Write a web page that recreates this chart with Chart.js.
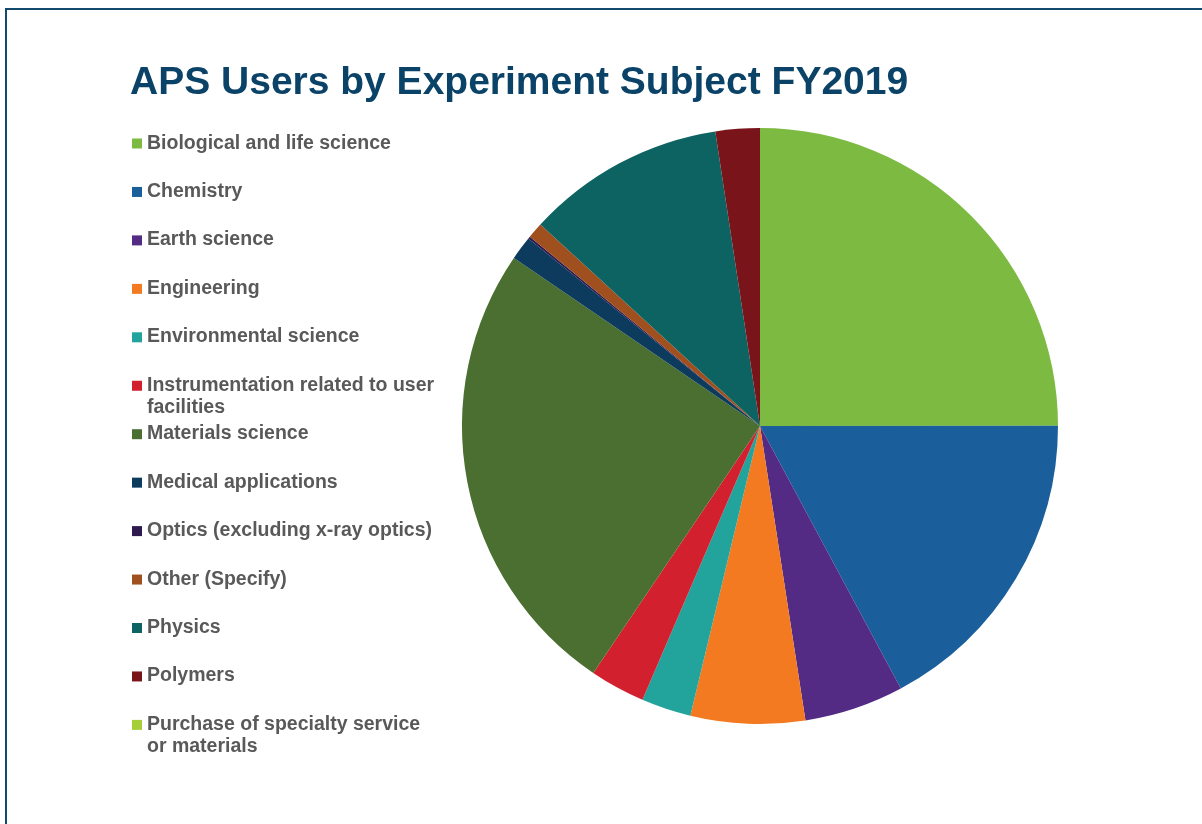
<!DOCTYPE html>
<html lang="en">
<head>
    <meta charset="UTF-8">
    <title>APS Users by Experiment Subject FY2019</title>
    <script src="https://cdn.jsdelivr.net/npm/chart.js"></script>
    <style>
        html, body { margin: 0; padding: 0; background: #fff; }
        #wrap { position: relative; width: 1202px; height: 824px; overflow: hidden; }
    </style>
</head>
<body>
<div id="wrap">
    <canvas id="subjectPie" width="1202" height="824"></canvas>
</div>

<script>
    // Subjects and their share of users (percent)
    const subjects = [
        "Biological and life science",
        "Chemistry",
        "Earth science",
        "Engineering",
        "Environmental science",
        "Instrumentation related to user facilities",
        "Materials science",
        "Medical applications",
        "Optics (excluding x-ray optics)",
        "Other (Specify)",
        "Physics",
        "Polymers",
        "Purchase of specialty service or materials"
    ];
    const shares = [25.0, 17.2, 5.4, 6.2, 2.7, 3.0, 25.1, 1.3, 0.12, 0.86, 10.8, 2.4, 0];
    const sliceColors = [
        "#7cba42", "#1a5f9c", "#532b84", "#f37a20", "#22a39b", "#d2202f", "#4a6f31",
        "#0d3b5e", "#2e1a4f", "#a0501e", "#0d6361", "#7a141b", "#a6ce39"
    ];
    // legend lines (wrapped as in the original)
    const legendLines = [
        ["Biological and life science"],
        ["Chemistry"],
        ["Earth science"],
        ["Engineering"],
        ["Environmental science"],
        ["Instrumentation related to user", "facilities"],
        ["Materials science"],
        ["Medical applications"],
        ["Optics (excluding x-ray optics)"],
        ["Other (Specify)"],
        ["Physics"],
        ["Polymers"],
        ["Purchase of specialty service", "or materials"]
    ];

    const frameAndText = {
        id: "frameAndText",
        afterDraw(chart) {
            const ctx = chart.ctx;
            ctx.save();
            // frame
            ctx.strokeStyle = "#124a6e";
            ctx.lineWidth = 2;
            ctx.beginPath();
            ctx.moveTo(6, 830);
            ctx.lineTo(6, 9);
            ctx.lineTo(1210, 9);
            ctx.stroke();

            // title
            ctx.fillStyle = "#0b4368";
            ctx.font = "bold 39px 'Liberation Sans', Arial, sans-serif";
            ctx.textBaseline = "alphabetic";
            ctx.fillText("APS Users by Experiment Subject FY2019", 130, 94);

            // legend
            ctx.font = "bold 19.5px 'Liberation Sans', Arial, sans-serif";
            legendLines.forEach((lines, i) => {
                const base = 148.5 + i * 48.45;
                ctx.fillStyle = sliceColors[i];
                ctx.fillRect(132, base - 10, 10, 10);
                ctx.fillStyle = "#595959";
                lines.forEach((t, j) => ctx.fillText(t, 147, base + j * 22));
            });
            ctx.restore();
        }
    };

    new Chart(document.getElementById("subjectPie"), {
        type: "pie",
        data: {
            labels: subjects,
            datasets: [{
                data: shares,
                backgroundColor: sliceColors,
                borderWidth: 0
            }]
        },
        options: {
            responsive: false,
            animation: false,
            layout: { padding: { left: 462, right: 144, top: 128, bottom: 100 } },
            plugins: {
                legend: { display: false },
                tooltip: { enabled: false }
            }
        },
        plugins: [frameAndText]
    });
</script>
</body>
</html>
